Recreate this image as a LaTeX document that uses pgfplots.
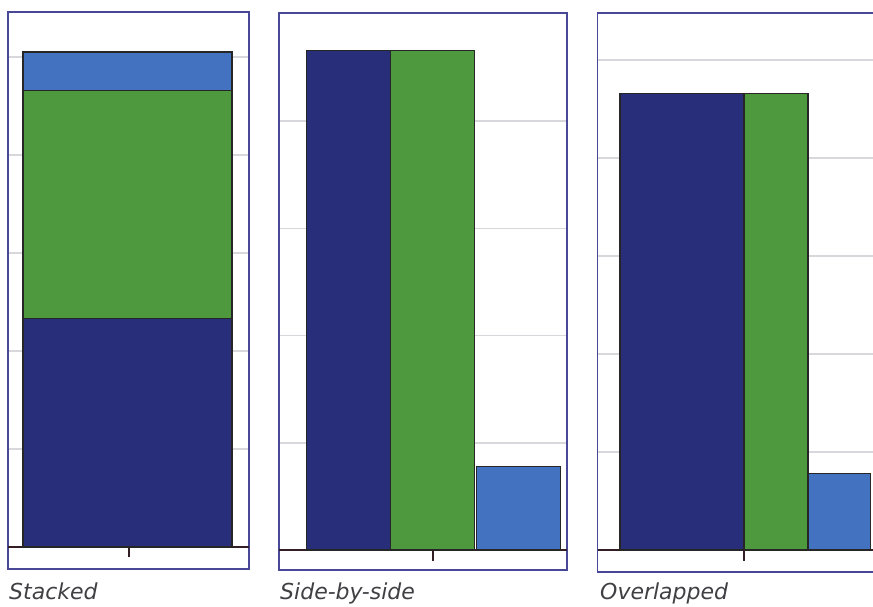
\documentclass[border=0pt]{standalone}
\usepackage{pgfplots}
\pgfplotsset{compat=1.18}
\usepackage{fontspec}
\setmainfont{DejaVu Sans}
\definecolor{navy}{RGB}{40,46,122}
\definecolor{grn}{RGB}{78,152,62}
\definecolor{lblue}{RGB}{66,114,192}
\definecolor{framec}{RGB}{72,72,150}
\definecolor{gridc}{RGB}{216,216,220}
\definecolor{txt}{RGB}{64,64,68}
\definecolor{basec}{RGB}{50,30,35}
\pgfplotsset{
  panel/.style={
    scale only axis, anchor=south west,
    axis line style={framec, line width=1.4pt},
    xtick=\empty, yticklabels={}, major tick length=0pt,
    ymajorgrids, grid style={gridc, line width=1.5pt},
    extra y ticks={0}, extra y tick labels={},
    extra y tick style={grid=major, grid style={basec, line width=1.6pt}},
    clip=false,
  },
  barsty/.style={draw=black!85, line width=1.6pt},
}
\begin{document}
\begin{tikzpicture}
\useasboundingbox (0pt,0pt) rectangle (873pt,607pt);
\clip (0pt,0pt) rectangle (873pt,607pt);
% Panel 1: stacked
\begin{axis}[panel, at={(8pt,38pt)}, width=241pt, height=557pt,
  xmin=-121, xmax=120, ymin=-0.449, ymax=10.92, ytick={2,4,6,8,10},
  ybar stacked, bar width=209]
\addplot[barsty, fill=navy, bar shift=-1.5] coordinates {(0,4.66)};
\addplot[barsty, fill=grn, bar shift=-1.5] coordinates {(0,4.66)};
\addplot[barsty, fill=lblue, bar shift=-1.5] coordinates {(0,0.78)};
\draw[basec, line width=2pt] (axis cs:0,0) -- ++(0pt,-10pt);
\end{axis}
% Panel 2: side-by-side
\begin{axis}[panel, at={(279pt,37pt)}, width=288pt, height=557pt,
  xmin=-153.5, xmax=134.5, ymin=-0.187, ymax=5.01, ytick={1,2,3,4},
  ybar, bar width=84]
\addplot[barsty, fill=navy, bar shift=-84] coordinates {(0,4.66)};
\addplot[barsty, fill=grn, bar shift=0] coordinates {(0,4.66)};
\addplot[barsty, fill=lblue, bar shift=86] coordinates {(0,0.78)};
\draw[basec, line width=2pt] (axis cs:0,0) -- ++(0pt,-11pt);
\end{axis}
% Panel 3: overlapped
\begin{axis}[panel, at={(597.5pt,35pt)}, width=292.5pt, height=559pt,
  xmin=-146.5, xmax=146, ymin=-0.2245, ymax=5.48, ytick={1,2,3,4,5},
  ybar, bar width=124]
\addplot[barsty, fill=lblue, bar shift=64.5] coordinates {(0,0.78)};
\addplot[barsty, fill=grn, bar shift=2] coordinates {(0,4.66)};
\addplot[barsty, fill=navy, bar shift=-62] coordinates {(0,4.66)};
\draw[basec, line width=2pt] (axis cs:0,0) -- ++(0pt,-11pt);
\end{axis}
\begin{scope}[every node/.style={anchor=base west, inner sep=0pt, text=txt, font=\itshape\fontsize{22}{26}\selectfont}]
\node at (9pt,7pt) {Stacked};
\node at (280pt,7pt) {Side-by-side};
\node at (600pt,7pt) {Overlapped};
\end{scope}
\end{tikzpicture}
\end{document}
